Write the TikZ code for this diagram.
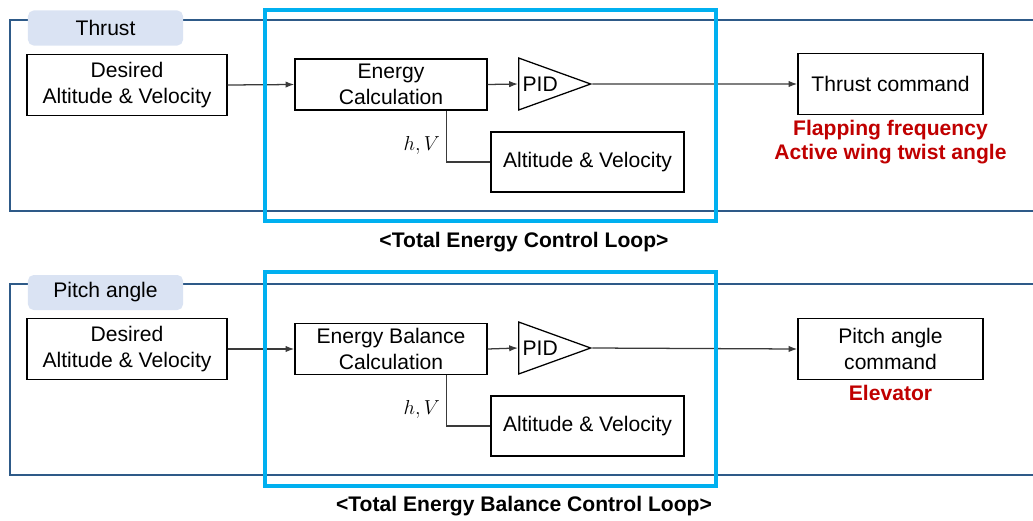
\documentclass[tikz,border=0pt]{standalone}
\usepackage{fontspec}
\setmainfont{Liberation Sans}
\usetikzlibrary{arrows.meta, positioning, shapes.geometric}
\definecolor{frameblue}{HTML}{2E5A88}
\definecolor{loopcyan}{HTML}{00B0F0}
\definecolor{tabfill}{HTML}{DAE3F3}
\definecolor{cmdred}{HTML}{C00000}
\definecolor{wire}{HTML}{3A3A3A}

\tikzset{
  block/.style={draw, line width=0.9pt, align=center, inner sep=2pt,
    font=\fontsize{15}{18}\selectfont},
  pidtri/.style={draw, line width=0.9pt, isosceles triangle,
    isosceles triangle stretches, shape border rotate=0,
    minimum width=1.3cm, minimum height=1.8cm, inner sep=1pt,
    font=\fontsize{15}{18}\selectfont},
  tabbox/.style={fill=tabfill, rounded corners=4pt, minimum width=3.875cm,
    minimum height=0.875cm, font=\fontsize{15}{18}\selectfont},
  flow/.style={wire, line width=0.9pt, -{Latex[length=2.2mm, width=1.6mm]}},
  frameline/.style={frameblue, line width=1.1pt},
  loopbox/.style={loopcyan, line width=3pt},
  sigtext/.style={text=black, font=\fontsize{15}{18}\selectfont},
  outtext/.style={text=cmdred, align=center, font=\fontsize{15}{17}\selectfont\bfseries},
  caption/.style={font=\fontsize{15}{18}\selectfont\bfseries}
}

\begin{document}
\begin{tikzpicture}[x=0.025cm, y=-0.025cm]

\useasboundingbox (0,0) rectangle (1033,520);

% ================================================================
% TOP PANEL: thrust loop
% ================================================================
\begin{scope}[shift={(0,0)}]

% open frame (right side runs off the page)
\draw[frameline] (1033,20) -- (10,20) -- (10,211) -- (1033,211);
\node[tabbox] (tab1) at (105.5,28) {Thrust};

% blocks
\node[block, minimum width=5cm, minimum height=1.525cm] (desired1) at (127,85)
  {Desired\\Altitude \& Velocity};
\node[block, minimum width=4.8cm, minimum height=1.275cm] (calc1) at (391,84.5)
  {Energy\\Calculation};
\node[pidtri, anchor=west] (pid1) at (518,84) {PID};
\node[block, minimum width=4.825cm, minimum height=1.5cm] (meas1) at (587.5,162)
  {Altitude \& Velocity};
\node[block, minimum width=4.625cm, minimum height=1.525cm] (cmd1) at (890.5,84)
  {Thrust command};
\node[outtext, below=0pt of cmd1] (out1)
  {Flapping frequency\\Active wing twist angle};

% connectors
\draw[flow] (desired1.east) -- (calc1.west);
\draw[flow] (calc1.east) -- (pid1.west);
\draw[flow] (pid1.apex) -- (cmd1.west);
\draw[wire, line width=0.9pt] (meas1.west) -| node[sigtext, pos=0.66, left=1pt] {$h,V$}
  ([xshift=-1.025cm]calc1.south east);

% loop highlight
\draw[loopbox] (265,10) rectangle (716,221);
\node[caption] (cap1) at (524,242) {<Total Energy Control Loop>};

\end{scope}

% ================================================================
% BOTTOM PANEL: pitch angle loop
% ================================================================
\begin{scope}[shift={(0,264)}]

\draw[frameline] (1033,20) -- (10,20) -- (10,211) -- (1033,211);
\node[tabbox] (tab2) at (105.5,28.5) {Pitch angle};

\node[block, minimum width=5cm, minimum height=1.525cm] (desired2) at (127,85)
  {Desired\\Altitude \& Velocity};
\node[block, minimum width=4.8cm, minimum height=1.275cm] (calc2) at (391,85)
  {Energy Balance\\Calculation};
\node[pidtri, anchor=west] (pid2) at (518,84) {PID};
\node[block, minimum width=4.825cm, minimum height=1.5cm] (meas2) at (587.5,162)
  {Altitude \& Velocity};
\node[block, minimum width=4.625cm, minimum height=1.525cm] (cmd2) at (890.5,85)
  {Pitch angle\\command};
\node[outtext, below=0pt of cmd2] (out2) {Elevator};

\draw[flow] (desired2.east) -- (calc2.west);
\draw[flow] (calc2.east) -- (pid2.west);
\draw[flow] (pid2.apex) -- (cmd2.west);
\draw[wire, line width=0.9pt] (meas2.west) -| node[sigtext, pos=0.66, left=1pt] {$h,V$}
  ([xshift=-1.025cm]calc2.south east);

\draw[loopbox] (265,8) rectangle (716,222);
\node[caption] (cap2) at (524,242) {<Total Energy Balance Control Loop>};

\end{scope}

\end{tikzpicture}
\end{document}
